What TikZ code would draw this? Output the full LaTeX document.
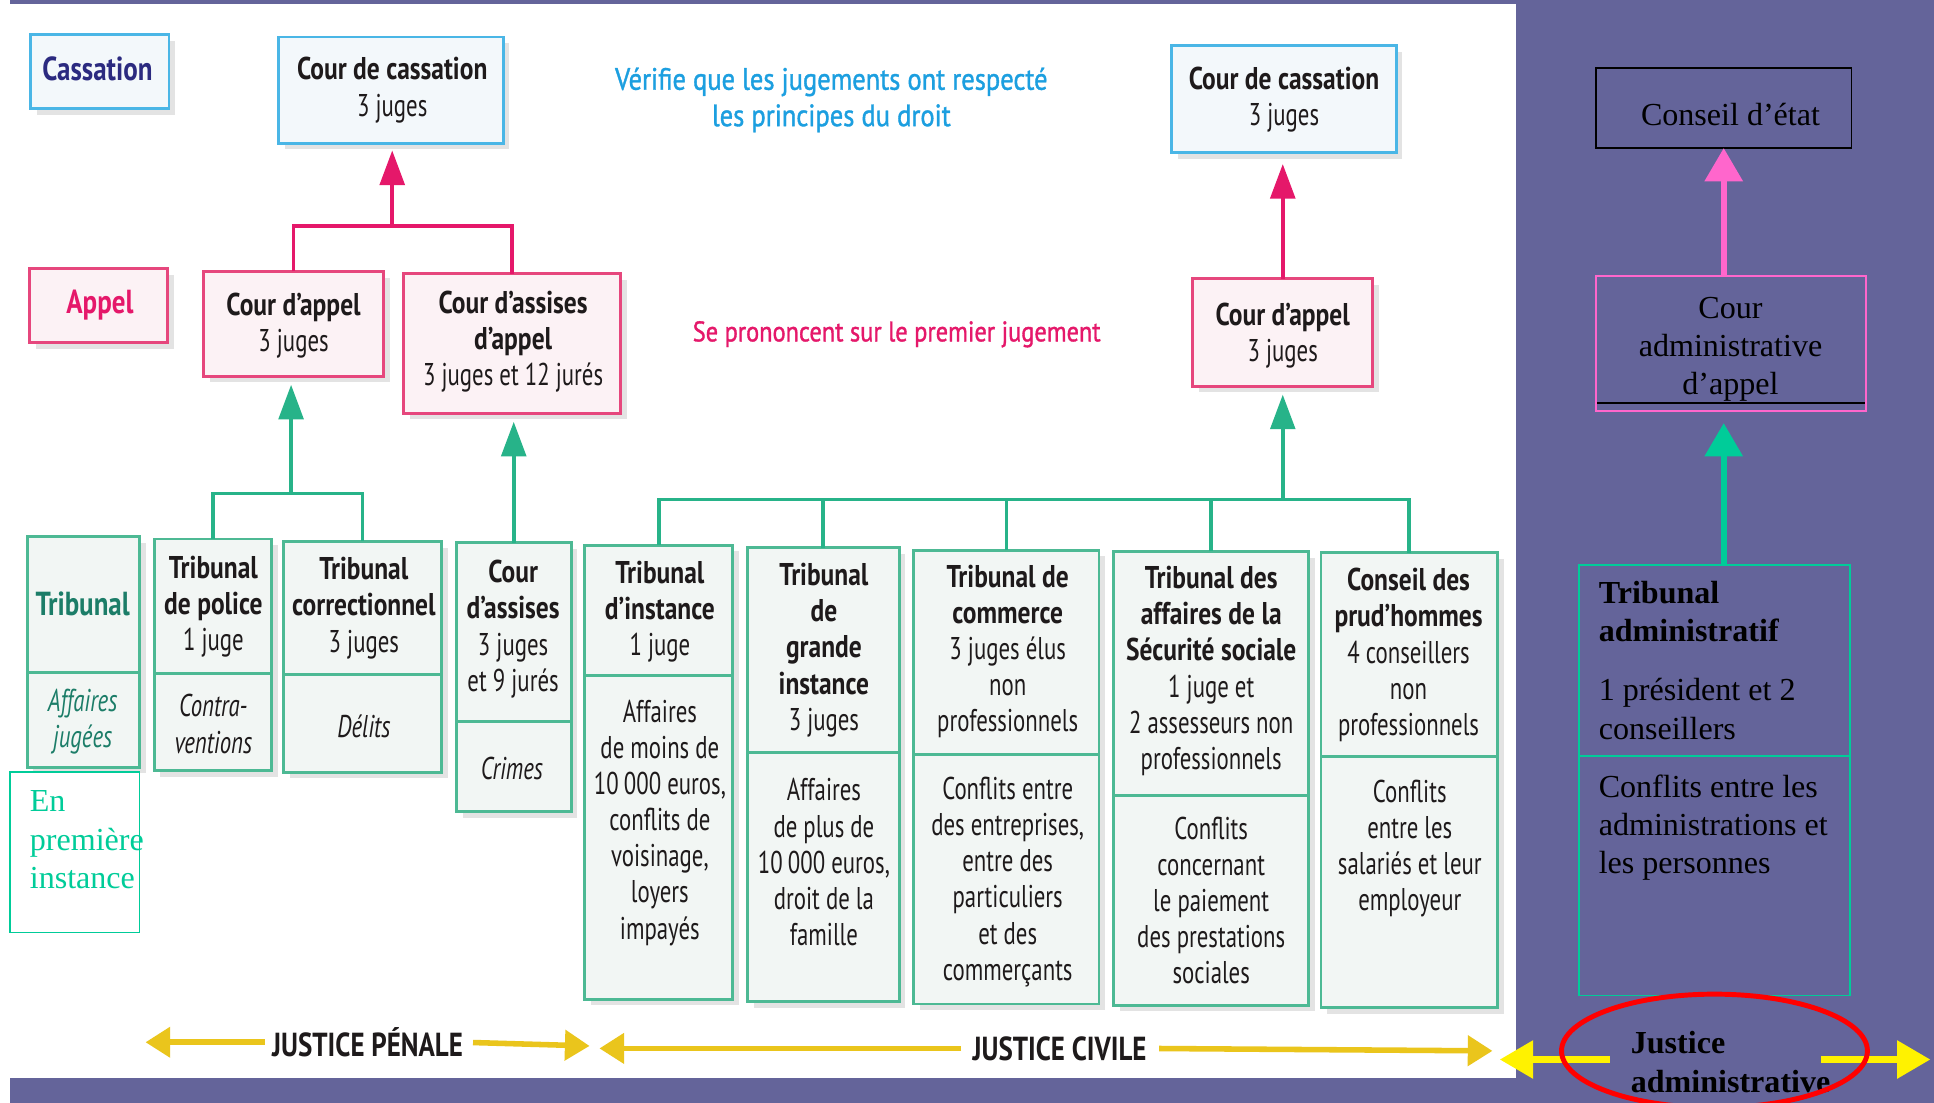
\documentclass[tikz,border=0pt]{standalone}
\usepackage{fontspec}
\setmainfont{Liberation Serif}
\newfontfamily\myr[UprightFeatures={FakeStretch=0.725},ItalicFeatures={FakeStretch=0.725},BoldFeatures={FakeStretch=0.81}]{PT Sans}
\newfontfamily\myrsb[FakeStretch=0.86,FakeBold=1.2]{PT Sans}
\usetikzlibrary{arrows.meta,shadows,shapes.geometric}
\definecolor{bgp}{HTML}{64649A}
\definecolor{cblue}{HTML}{4AB6E6}
\definecolor{fblue}{HTML}{F3F8FB}
\definecolor{cpink}{HTML}{E6477D}
\definecolor{fpink}{HTML}{FCF2F5}
\definecolor{cgreen}{HTML}{4DB994}
\definecolor{fgreen}{HTML}{F2F6F4}
\definecolor{apink}{HTML}{E5186A}
\definecolor{agreen}{HTML}{27B389}
\definecolor{navy}{HTML}{2B2A80}
\definecolor{tealdk}{HTML}{1C7D68}
\definecolor{skyb}{HTML}{1C9FE0}
\definecolor{ink}{HTML}{1E1A1B}
\definecolor{gold}{HTML}{EAC51C}
\definecolor{rgreen}{HTML}{00CC99}
\definecolor{rpink}{HTML}{FF66CC}
\newcommand\bt{\myr\fontsize{25.5}{29.3}\selectfont}
\newcommand\rt{\fontsize{26}{31}\selectfont}
\newcommand\cellbox[6]{\node[#1,minimum width={(#5-#3)*1pt},minimum height={(#6-#4)*1pt}] (#2) at ({(#3+#5)/2},{(#4+#6)/2}) {};}
\tikzset{
 cellbase/.style={rectangle, inner sep=0pt, outer sep=0pt, line width=2.4pt, drop shadow={opacity=0.22, shadow xshift=5pt, shadow yshift=-5pt}},
 cellb/.style={cellbase, draw=cblue, fill=fblue},
 cellp/.style={cellbase, draw=cpink, fill=fpink},
 cellg/.style={cellbase, draw=cgreen, fill=fgreen},
 txt/.style={font=\bt, text=ink, align=center, inner sep=0pt},
 pline/.style={draw=apink, line width=3pt},
 parrow/.style={pline, -{Triangle[width=20pt,length=28pt]}},
 gline/.style={draw=agreen, line width=3pt},
 garrow/.style={gline, -{Triangle[width=20pt,length=28pt]}},
 yarrow/.style={draw=gold, line width=4.5pt, -{Triangle[width=24pt,length=20pt]}},
 rbox/.style={rectangle, inner sep=0pt, outer sep=0pt, line width=1.3pt},
 rtxt/.style={font=\rt, text=black, inner sep=0pt},
 radm/.style={line width=5pt, -{Triangle[width=30pt,length=27pt]}},
}
\begin{document}
\begin{tikzpicture}[x=1pt,y=-1pt]
\useasboundingbox (0,0) rectangle (1568,894);
\clip (0,0) rectangle (1568,894);
\fill[bgp] (0,0) rectangle (1568,894);
\fill[white] (8,3) rectangle (1229,874);
\fill[white] (0,0) rectangle (8,894);

% ---- left labels
\cellbox{cellb}{cassL}{25}{28}{137}{88}
\node[txt, text=navy, font=\bt\fontsize{27}{30}\selectfont\bfseries] (cassLT) at (79,56) {Cassation};
\cellbox{cellp}{appL}{24}{218}{136}{278}
\node[txt, text=apink, font=\bt\fontsize{27}{30}\selectfont\bfseries] (appLT) at (81,247) {Appel};
\cellbox{cellg}{tribL}{22}{435}{113}{545}
\node[txt, text=tealdk, font=\bt\fontsize{27}{30}\selectfont\bfseries] (tribLT) at (67,490) {Tribunal};
\cellbox{cellg}{affL}{22}{545}{113}{622}
\node[txt, text=tealdk] (affLT) at (67,585) {\textit{Affaires}\\\textit{jugées}};

% ---- penal
\cellbox{cellb}{ccp}{226}{30}{408}{116}
\node[txt] (ccpT) at (318,73) {\textbf{Cour de cassation}\\3 juges};
\cellbox{cellp}{cap}{165}{220}{311}{305}
\node[txt] (capT) at (238,264) {\textbf{Cour d’appel}\\3 juges};
\cellbox{cellp}{caa}{327}{222}{503}{335}
\node[txt] (caaT) at (416,277) {\textbf{Cour d’assises}\\\textbf{d’appel}\\3 juges et 12 jurés};

\cellbox{cellg}{tpol}{125}{437}{220}{546}
\node[txt] (tpolT) at (173,492) {\textbf{Tribunal}\\\textbf{de police}\\1 juge};
\cellbox{cellg}{tpolB}{125}{546}{220}{625}
\node[txt] (tpolBT) at (173,587) {\textit{Contra-}\\\textit{ventions}};
\cellbox{cellg}{tcor}{230}{439}{358}{547}
\node[txt] (tcorT) at (295,493) {\textbf{Tribunal}\\\textbf{correctionnel}\\3 juges};
\cellbox{cellg}{tcorB}{230}{547}{358}{626}
\node[txt] (tcorBT) at (295,589) {\textit{Délits}};
\cellbox{cellg}{cas}{370}{440}{463}{585}
\node[txt] (casT) at (416,510) {\textbf{Cour}\\\textbf{d’assises}\\3 juges\\et 9 jurés};
\cellbox{cellg}{casB}{370}{585}{463}{658}
\node[txt] (casBT) at (415,623) {\textit{Crimes}};

% ---- civil
\cellbox{cellb}{ccc}{950}{37}{1132}{124}
\node[txt] (cccT) at (1041,81) {\textbf{Cour de cassation}\\3 juges};
\cellbox{cellp}{cac}{967}{226}{1113}{313}
\node[txt] (cacT) at (1040,272) {\textbf{Cour d’appel}\\3 juges};

\cellbox{cellg}{ti}{474}{442}{594}{548}
\node[txt] (tiT) at (535,496) {\textbf{Tribunal}\\\textbf{d’instance}\\1 juge};
\cellbox{cellg}{tiB}{474}{548}{594}{810}
\node[txt] (tiBT) at (535,667) {Affaires\\de moins de\\10\,000 euros,\\conflits de\\voisinage,\\loyers\\impayés};
\cellbox{cellg}{tgi}{606}{444}{729}{610}
\node[txt] (tgiT) at (668,527) {\textbf{Tribunal}\\\textbf{de}\\\textbf{grande}\\\textbf{instance}\\3 juges};
\cellbox{cellg}{tgiB}{606}{610}{729}{812}
\node[txt] (tgiBT) at (668,699) {Affaires\\de plus de\\10\,000 euros,\\droit de la\\famille};
\cellbox{cellg}{tc}{741}{446}{891}{612}
\node[txt] (tcT) at (817,528) {\textbf{Tribunal de}\\\textbf{commerce}\\3 juges élus\\non\\professionnels};
\cellbox{cellg}{tcB}{741}{612}{891}{814}
\node[txt] (tcBT) at (817,715) {Conflits entre\\des entreprises,\\entre des\\particuliers\\et des\\commerçants};
\cellbox{cellg}{tass}{903}{447}{1061}{645}
\node[txt] (tassT) at (982,544) {\textbf{Tribunal des}\\\textbf{affaires de la}\\\textbf{Sécurité sociale}\\1 juge et\\2 assesseurs non\\professionnels};
\cellbox{cellg}{tassB}{903}{645}{1061}{815}
\node[txt] (tassBT) at (982,730) {Conflits\\concernant\\le paiement\\des prestations\\sociales};
\cellbox{cellg}{cph}{1071}{448}{1214}{613}
\node[txt] (cphT) at (1142,531) {\textbf{Conseil des}\\\textbf{prud’hommes}\\4 conseillers\\non\\professionnels};
\cellbox{cellg}{cphB}{1071}{613}{1214}{817}
\node[txt] (cphBT) at (1143,688) {Conflits\\entre les\\salariés et leur\\employeur};

% ---- floating texts
\node[txt, text=skyb, font=\myrsb\fontsize{25}{29.5}\selectfont] (verif) at (674,81) {Vérifie que les jugements ont respecté\\les principes du droit};
\node[txt, text=apink, font=\myrsb\fontsize{23}{28}\selectfont] (pron) at (727,271) {Se prononcent sur le premier jugement};

% ---- connectors penal
\coordinate (pj) at (318,183);
\draw[pline] (cap.north) |- (pj);
\draw[pline] (caa.north) |- (pj);
\draw[parrow, shorten >=6pt] (pj) -- (pj |- ccp.south);
\coordinate (gj) at (236,400);
\draw[gline] (tpol.north) |- (gj);
\draw[gline] (tcor.north) |- (gj);
\draw[garrow, shorten >=7pt] (gj) -- (gj |- cap.south);
\draw[garrow, shorten >=7pt] (cas.north) -- (cas.north |- caa.south);

% ---- connectors civil
\draw[parrow, shorten >=9pt] (cac.north) -- (cac.north |- ccc.south);
\coordinate (cj) at (1040,405);
\draw[gline] (ti.north) |- (cj);
\draw[gline] (tgi.north) |- (cj);
\draw[gline] (tc.north) |- (cj);
\draw[gline] (tass.north) |- (cj);
\draw[gline] (cph.north) |- (cj);
\draw[garrow, shorten >=7pt] (cj) -- (cj |- cac.south);

% ---- bottom justice labels
\node[txt, font=\bt\fontsize{27}{30}\selectfont\bfseries] (jpen) at (298,845) {JUSTICE PÉNALE};
\coordinate (jpenL) at (118,845);
\coordinate (jpenR) at (478,848);
\draw[yarrow, shorten <=6pt] (jpen.west) -- (jpenL);
\draw[yarrow, shorten <=8pt] (jpen.east) -- (jpenR);
\node[txt, font=\bt\fontsize{27}{30}\selectfont\bfseries] (jciv) at (859,850) {JUSTICE CIVILE};
\coordinate (jcivL) at (486,850);
\coordinate (jcivR) at (1210,852);
\draw[yarrow, shorten <=9pt] (jciv.west) -- (jcivL);
\draw[yarrow, shorten <=10pt] (jciv.east) -- (jcivR);

% ---- en premiere instance
\node[rbox, draw=rgreen, line width=1.2pt, minimum width=105pt, minimum height=130pt] (epi) at (60.5,691) {};
\node[rtxt, text=rgreen, align=left, anchor=north west] (epiT) at (24,641) {En\\première\\instance};

% ---- right panel
\node[rbox, draw=black, minimum width=207pt, minimum height=65pt] (ce) at (1397.5,87.5) {};
\node[rtxt] (ceT) at (1403,93) {Conseil d’état};
\node[rbox, draw=rpink, minimum width=219pt, minimum height=109pt] (cad) at (1403.5,278.5) {};
\node[rtxt, align=center] (cadT) at (1403,283) {Cour\\administrative\\d’appel};
\draw[line width=1.5pt] (1295,327) -- (1512,327);
\draw[radm, rpink] (ce.south |- cad.north) -- (ce.south);
\node[rbox, draw=rgreen, minimum width=220pt, minimum height=155pt] (ta) at (1390,535.5) {};
\node[rbox, draw=rgreen, minimum width=220pt, minimum height=194pt] (taB) at (1390,710) {};
\draw[radm, rgreen, shorten >=10pt] (ce.south |- ta.north) -- (ce.south |- cad.south);
\node[rtxt, align=left, anchor=north west] (taT) at (1296,471) {\textbf{Tribunal}\\\textbf{administratif}\\[17pt]1 président et 2\\conseillers};
\node[rtxt, align=left, anchor=north west] (taBT) at (1296,628) {Conflits entre les\\administrations et\\les personnes};

\node[rtxt, font=\rt\bfseries, align=left, anchor=west] (jadm) at (1322,861) {Justice\\administrative};
\coordinate (jaL) at (1216,859);
\coordinate (jaR) at (1565,859);
\draw[radm, yellow, shorten <=17pt] (jadm.west |- jaL) -- (jaL);
\draw[radm, yellow, shorten <=-8pt] (jadm.east |- jaR) -- (jaR);
\node[ellipse, draw=red, line width=4pt, minimum width=248pt, minimum height=92pt, inner sep=0pt] (ell) at (1390,852) {};
\end{tikzpicture}
\end{document}
